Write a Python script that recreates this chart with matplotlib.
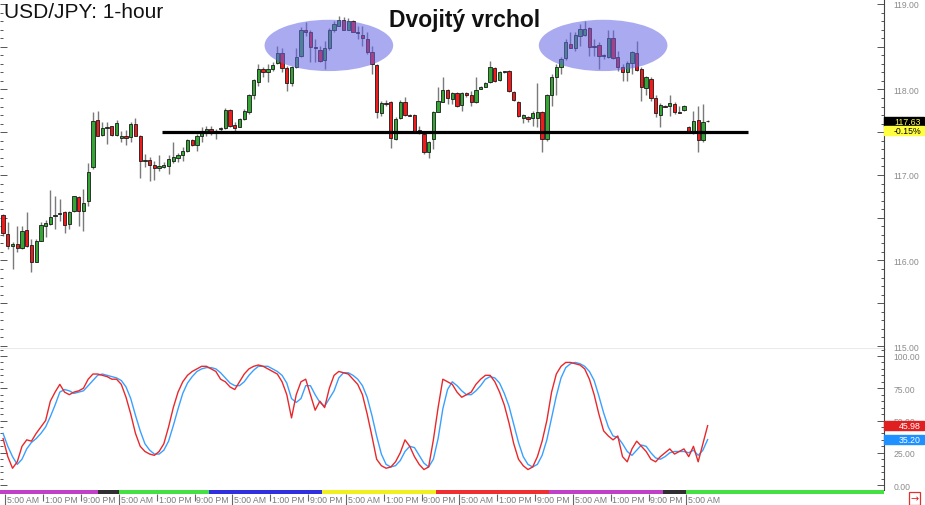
import numpy as np
import matplotlib.pyplot as plt
import matplotlib.ticker as mticker
from matplotlib.patches import Ellipse, Rectangle

plt.rcParams['font.family'] = ['Liberation Sans', 'DejaVu Sans']

# USD/JPY 1h candles
opens = [116.53, 116.31, 116.17, 116.19, 116.15, 116.36, 116.18, 115.98, 116.23, 116.40,
         116.43, 116.52, 116.54, 116.57, 116.43, 116.58, 116.74, 116.58, 116.69, 117.09,
         117.64, 117.47, 117.55, 117.57, 117.47, 117.43, 117.46, 117.45, 117.60, 117.46,
         117.16, 117.18, 117.12, 117.08, 117.09, 117.11, 117.16, 117.20, 117.23, 117.28,
         117.41, 117.35, 117.46, 117.49, 117.54, 117.50, 117.54, 117.55, 117.76, 117.59,
         117.56, 117.66, 117.74, 117.93, 118.09, 118.24, 118.21, 118.24, 118.31, 118.43,
         118.25, 118.08, 118.26, 118.39, 118.69, 118.67, 118.50, 118.46, 118.35, 118.48,
         118.69, 118.74, 118.81, 118.69, 118.80, 118.67, 118.64, 118.59, 118.44, 118.29,
         117.73, 117.84, 117.85, 117.42, 117.67, 117.85, 117.70, 117.70, 117.53, 117.48,
         117.27, 117.42, 117.74, 117.85, 117.99, 117.89, 117.96, 117.82, 117.96, 117.93,
         117.85, 118.01, 118.03, 118.09, 118.25, 118.11, 118.21, 118.22, 117.97, 117.85,
         117.67, 117.68, 117.67, 117.67, 117.74, 117.42, 117.93, 118.14, 118.26, 118.37,
         118.53, 118.49, 118.63, 118.64, 118.72, 118.51, 118.52, 118.39, 118.38, 118.60,
         118.38, 118.26, 118.21, 118.31, 118.43, 118.24, 118.02, 118.12, 117.90, 117.70,
         117.81, 117.81, 117.83, 117.74, 117.76, 117.56, 117.52, 117.64, 117.41, 117.63]
highs = [116.54, 116.45, 116.22, 116.40, 116.40, 116.57, 116.25, 116.25, 116.45, 116.47,
         116.83, 116.76, 116.72, 116.58, 116.58, 116.76, 116.76, 116.84, 117.14, 117.74,
         117.75, 117.62, 117.62, 117.57, 117.64, 117.52, 117.53, 117.62, 117.67, 117.47,
         117.25, 117.21, 117.16, 117.23, 117.15, 117.23, 117.39, 117.26, 117.33, 117.42,
         117.42, 117.48, 117.56, 117.57, 117.57, 117.54, 117.56, 117.78, 117.77, 117.62,
         117.67, 117.77, 117.95, 118.12, 118.30, 118.26, 118.30, 118.32, 118.51, 118.48,
         118.28, 118.28, 118.48, 118.73, 118.79, 118.69, 118.59, 118.51, 118.57, 118.72,
         118.80, 118.86, 118.85, 118.83, 118.81, 118.74, 118.74, 118.67, 118.51, 118.30,
         117.87, 117.88, 117.87, 117.68, 117.88, 117.91, 117.71, 117.71, 117.57, 117.49,
         117.40, 117.75, 118.03, 118.15, 118.01, 117.97, 117.97, 117.97, 117.97, 117.98,
         118.15, 118.04, 118.09, 118.33, 118.26, 118.22, 118.22, 118.23, 117.98, 117.87,
         117.71, 117.69, 117.75, 118.07, 117.75, 117.95, 118.18, 118.30, 118.38, 118.59,
         118.67, 118.67, 118.77, 118.80, 118.73, 118.59, 118.56, 118.42, 118.69, 118.70,
         118.45, 118.30, 118.33, 118.45, 118.57, 118.26, 118.16, 118.14, 117.93, 117.84,
         117.82, 117.93, 117.85, 117.81, 117.82, 117.57, 117.75, 117.81, 117.83, 117.64]
lows = [116.29, 116.13, 115.90, 116.10, 116.13, 116.16, 115.87, 115.98, 116.23, 116.27,
        116.42, 116.37, 116.46, 116.32, 116.37, 116.57, 116.40, 116.35, 116.64, 117.07,
        117.46, 117.46, 117.36, 117.46, 117.46, 117.38, 117.35, 117.39, 117.46, 116.97,
        117.09, 116.93, 116.94, 117.05, 117.08, 117.01, 117.14, 117.15, 117.16, 117.27,
        117.34, 117.28, 117.39, 117.46, 117.47, 117.42, 117.52, 117.54, 117.56, 117.52,
        117.56, 117.64, 117.71, 117.89, 118.04, 118.15, 118.09, 118.22, 118.30, 118.21,
        117.98, 118.04, 118.25, 118.38, 118.63, 118.32, 118.32, 118.32, 118.24, 118.46,
        118.67, 118.74, 118.69, 118.69, 118.67, 118.59, 118.51, 118.42, 118.18, 117.67,
        117.69, 117.81, 117.32, 117.41, 117.66, 117.69, 117.69, 117.50, 117.48, 117.25,
        117.20, 117.30, 117.74, 117.85, 117.83, 117.83, 117.80, 117.75, 117.91, 117.81,
        117.84, 118.00, 118.03, 118.08, 118.09, 118.10, 118.19, 117.97, 117.87, 117.68,
        117.61, 117.62, 117.57, 117.56, 117.27, 117.40, 117.81, 117.93, 118.18, 118.35,
        118.48, 118.45, 118.51, 118.63, 118.39, 118.39, 118.24, 118.36, 118.37, 118.36,
        118.22, 118.10, 118.10, 118.18, 118.22, 117.87, 117.93, 117.87, 117.68, 117.56,
        117.80, 117.69, 117.71, 117.73, 117.75, 117.50, 117.48, 117.27, 117.39, 117.62]
closes = [116.32, 116.17, 116.19, 116.15, 116.35, 116.17, 115.98, 116.23, 116.42, 116.44,
          116.51, 116.53, 116.55, 116.42, 116.57, 116.76, 116.58, 116.67, 117.04, 117.63,
          117.46, 117.55, 117.56, 117.47, 117.61, 117.46, 117.43, 117.60, 117.46, 117.16,
          117.18, 117.12, 117.08, 117.11, 117.12, 117.19, 117.21, 117.23, 117.28, 117.41,
          117.35, 117.46, 117.49, 117.54, 117.50, 117.51, 117.55, 117.76, 117.57, 117.55,
          117.66, 117.75, 117.93, 118.11, 118.24, 118.21, 118.24, 118.29, 118.43, 118.25,
          118.08, 118.26, 118.38, 118.69, 118.67, 118.50, 118.48, 118.33, 118.48, 118.69,
          118.77, 118.81, 118.69, 118.80, 118.67, 118.66, 118.60, 118.44, 118.30, 117.74,
          117.84, 117.83, 117.43, 117.66, 117.85, 117.70, 117.69, 117.52, 117.49, 117.27,
          117.39, 117.74, 117.87, 117.99, 117.90, 117.96, 117.81, 117.96, 117.93, 117.85,
          117.99, 118.03, 118.07, 118.26, 118.10, 118.21, 118.22, 117.98, 117.88, 117.69,
          117.70, 117.66, 117.73, 117.74, 117.42, 117.93, 118.14, 118.26, 118.36, 118.55,
          118.49, 118.64, 118.71, 118.71, 118.50, 118.50, 118.39, 118.40, 118.60, 118.37,
          118.26, 118.21, 118.31, 118.44, 118.23, 118.03, 118.14, 117.90, 117.73, 117.82,
          117.80, 117.84, 117.74, 117.73, 117.81, 117.52, 117.63, 117.41, 117.62, 117.63]

# stochastic %K (red) and %D (blue)
stoch_k = [36, 22, 13, 18, 30, 35, 34, 40, 45, 50,
           65, 72, 78, 72, 70, 72, 73, 75, 82, 86,
           86, 85, 84, 82, 82, 78, 68, 55, 40, 30,
           26, 24, 23, 26, 32, 45, 60, 72, 80, 85,
           88, 90, 92, 92, 90, 88, 82, 80, 76, 74,
           80, 86, 90, 92, 93, 92, 90, 88, 86, 80,
           70, 52, 70, 80, 82, 70, 58, 65, 60, 75,
           85, 88, 87, 86, 82, 78, 70, 55, 38, 20,
           15, 13, 14, 18, 25, 35, 30, 22, 16, 12,
           14, 35, 60, 82, 80, 78, 72, 68, 70, 72,
           78, 82, 85, 85, 80, 72, 62, 48, 32, 20,
           15, 12, 14, 22, 34, 50, 72, 86, 92, 95,
           95, 94, 93, 90, 82, 70, 55, 42, 38, 35,
           38, 22, 18, 28, 34, 30, 26, 20, 18, 22,
           25, 28, 24, 26, 28, 22, 30, 18, 32, 45.98]
stoch_d = [40, 30, 22, 16, 20, 28, 33, 36, 40, 45,
           53, 62, 72, 74, 73, 71, 72, 73, 77, 81,
           85, 86, 85, 84, 83, 81, 76, 67, 54, 42,
           32, 27, 24, 24, 27, 34, 46, 59, 71, 79,
           84, 88, 90, 91, 91, 90, 87, 83, 79, 77,
           77, 80, 85, 89, 92, 92, 92, 90, 88, 85,
           79, 67, 64, 67, 77, 77, 70, 64, 61, 67,
           73, 83, 87, 87, 85, 82, 77, 68, 54, 38,
           24, 16, 14, 15, 19, 26, 30, 29, 23, 17,
           14, 20, 36, 59, 74, 80, 77, 73, 70, 70,
           73, 77, 82, 84, 83, 79, 71, 61, 47, 33,
           22, 16, 14, 16, 23, 35, 52, 69, 83, 91,
           94, 95, 94, 92, 88, 81, 69, 56, 45, 38,
           37, 32, 26, 23, 27, 31, 30, 25, 21, 20,
           22, 25, 26, 26, 26, 25, 27, 23, 27, 35.20]

time_labels = ['5:00 AM', '1:00 PM', '9:00 PM'] * 6 + ['5:00 AM']
session_edges = [-0.7, 20, 24.5, 43.5, 67.5, 91.5, 115.5, 139.5, 144.5, 187]
session_colors = ['#c040c8', '#303030', '#44e044', '#3030e0', '#f0f020',
                  '#f03030', '#c040c8', '#303030', '#44e044']

support = 117.50
last_price, last_chg = 117.63, '-0.15%'

W, H = 925, 506
def box(x0, y0, x1, y1):
    return [x0 / W, 1 - y1 / H, (x1 - x0) / W, (y1 - y0) / H]

fig = plt.figure(figsize=(W / 100, H / 100), dpi=100)
ax = fig.add_axes(box(0, 0, 884, 350))
ax2 = fig.add_axes(box(0, 350, 884, 491))
ax3 = fig.add_axes(box(0, 491, 884, 494.5))
xlim = (-0.65, 186.3)

# --- candles
o, h, l, c = map(np.array, (opens, highs, lows, closes))
idx = np.arange(len(o))
col = np.where(c >= o, '#33a633', '#f21a1a')
ax.vlines(idx, l, h, color='#7a7a7a', lw=1, zorder=1)
ax.bar(idx, np.maximum(np.abs(c - o), 0.006), bottom=np.minimum(o, c), width=0.7,
       color=col, edgecolor='#1a1a1a', linewidth=0.6, zorder=2)

for cx in (68.9, 126.9):
    ax.add_patch(Ellipse((cx, 118.515), 27.2, 0.6, facecolor='#6464e6', alpha=0.55,
                         edgecolor='none', zorder=3))
ax.hlines(support, 33.6, 157.5, color='black', lw=2.3, zorder=4)

ax.set_xlim(xlim)
ax.set_ylim(114.965, 119.058)
ax.set_xticks([])
ax.yaxis.set_major_locator(mticker.MultipleLocator(0.5))
ax.yaxis.set_minor_locator(mticker.MultipleLocator(0.1))
ax.yaxis.set_major_formatter(mticker.FuncFormatter(
    lambda v, p: '%.2f' % v if abs(v - round(v)) < 1e-6 else ''))

# --- stochastic
ax2.plot(idx, stoch_d, color='#3aa0ff', lw=1, zorder=2)
ax2.plot(idx, stoch_k, color='#e8282b', lw=1, zorder=3)
ax2.set_xlim(xlim)
ax2.set_ylim(-3.85, 105.4)
ax2.set_xticks([])
ax2.yaxis.set_major_locator(mticker.MultipleLocator(25))
ax2.yaxis.set_minor_locator(mticker.MultipleLocator(5))
ax2.yaxis.set_major_formatter(mticker.FormatStrFormatter('%.2f'))

for a in (ax, ax2):
    a.yaxis.tick_right()
    a.tick_params(axis='y', which='both', direction='in', left=True, right=True,
                  labelleft=False, labelright=True, labelsize=6.2,
                  labelcolor='#8c8c8c', color='#555555', pad=7, width=0.7)
    a.tick_params(axis='y', which='major', length=5)
    a.tick_params(axis='y', which='minor', length=2.5)
    a.spines['top'].set_visible(False)
    a.spines['left'].set_visible(False)
    a.spines['right'].set_color('#444444')
    a.spines['right'].set_linewidth(0.8)
ax.spines['bottom'].set_color('#555555')
ax.spines['bottom'].set_linewidth(0.9)
ax2.spines['bottom'].set_visible(False)

# --- price tags on the right axis
def tag(a, y, hgt, text, fc, tc):
    a.add_patch(Rectangle((1.0, y - hgt / 2), 40 / 884, hgt, transform=a.get_yaxis_transform(),
                          facecolor=fc, edgecolor=fc, clip_on=False, zorder=6))
    a.text(1.0 + 37 / 884, y, text, transform=a.get_yaxis_transform(), ha='right',
           va='center', fontsize=6.3, color=tc, zorder=7, clip_on=False)

tag(ax, last_price, 0.105, '%.2f' % last_price, 'black', '#ffff40')
tag(ax, last_price - 0.105, 0.105, last_chg, '#ffff40', 'black')
tag(ax2, stoch_k[-1], 6.9, '%.2f' % stoch_k[-1], '#e02020', 'white')
tag(ax2, stoch_d[-1], 6.9, '%.2f' % stoch_d[-1], '#1e90ff', 'white')

# --- session colour strip and time labels
for i, clr in enumerate(session_colors):
    ax3.axvspan(session_edges[i], session_edges[i + 1], color=clr, lw=0)
ax3.set_xlim(xlim)
ax3.set_ylim(0, 1)
for s in ax3.spines.values():
    s.set_visible(False)
ax3.set_yticks([])
tick_pos = [0.5 + 8 * k for k in range(len(time_labels))]
ax3.set_xticks([p for p, t in zip(tick_pos, time_labels) if t == '5:00 AM'])
ax3.set_xticks([p for p, t in zip(tick_pos, time_labels) if t != '5:00 AM'], minor=True)
ax3.set_xticklabels([])
ax3.tick_params(axis='x', which='major', direction='out', length=8.5, width=0.8, color='#666666')
ax3.tick_params(axis='x', which='minor', direction='out', length=5, width=0.8, color='#666666')
for p, t in zip(tick_pos, time_labels):
    ax3.annotate(t, xy=(p, 0), xycoords=('data', 'axes fraction'), xytext=(1.3, -1.2),
                 textcoords='offset points', ha='left', va='top', fontsize=6.3,
                 color='#7a7a7a', annotation_clip=False)

# --- titles
fig.text(4 / W, 1 - 18 / H, 'USD/JPY: 1-hour', fontsize=15, color='#111111', va='baseline')
fig.text(464.5 / W, 1 - 27 / H, 'Dvojitý vrchol', fontsize=16.5, fontweight='bold',
         color='#111111', ha='center', va='baseline')
fig.text(914.5 / W, 1 - 499.5 / H, '→', fontsize=7, color='#e02020', ha='center', va='center',
         family='DejaVu Sans',
         bbox=dict(boxstyle='square,pad=0.12', fc='white', ec='#e03030', lw=0.9))

fig.savefig('out.png', dpi=100)
